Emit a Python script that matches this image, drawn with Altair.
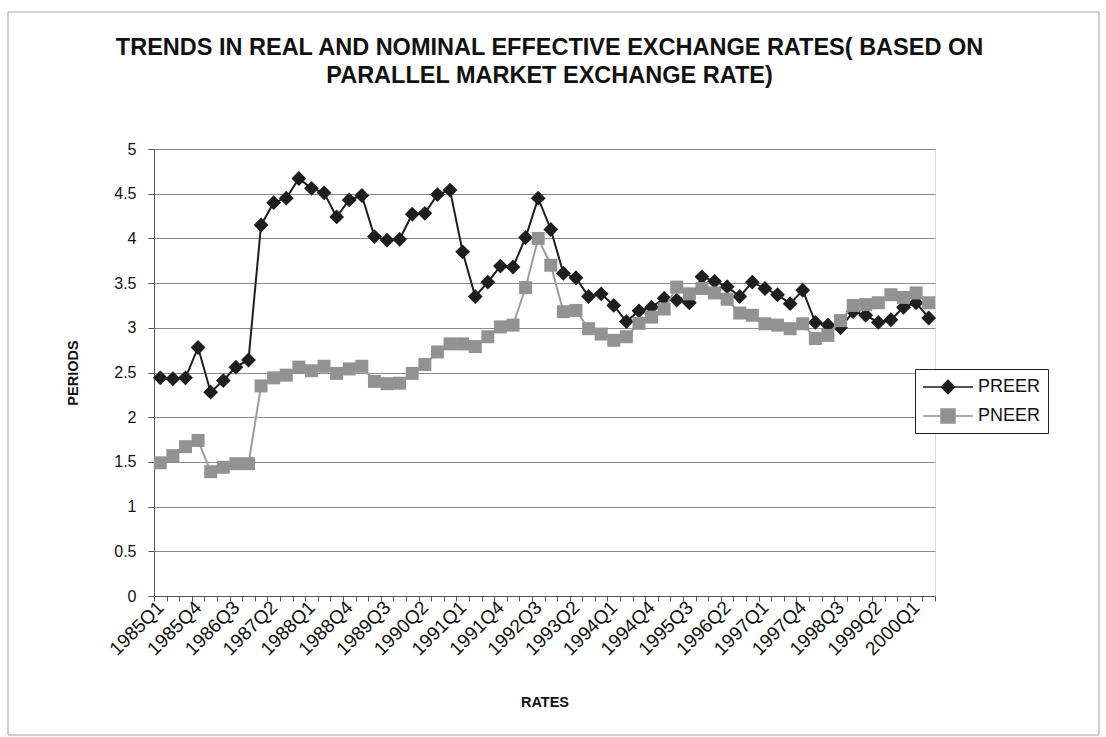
import json

import altair as alt
import pandas as pd

# Quarterly periods on the category axis
periods = [f"{yr}Q{q}" for yr in range(1985, 2001) for q in range(1, 5)][:62]
shown_labels = periods[::3]

# Parallel-market real effective exchange rate
preer = [
    2.44, 2.43, 2.44, 2.78, 2.28, 2.41, 2.56, 2.64, 4.15, 4.40,
    4.45, 4.67, 4.56, 4.51, 4.24, 4.43, 4.48, 4.02, 3.98, 3.99,
    4.27, 4.28, 4.49, 4.54, 3.85, 3.35, 3.51, 3.69, 3.68, 4.01,
    4.45, 4.10, 3.61, 3.56, 3.35, 3.38, 3.25, 3.07, 3.19, 3.23,
    3.33, 3.31, 3.28, 3.57, 3.52, 3.46, 3.35, 3.51, 3.44, 3.37,
    3.27, 3.42, 3.06, 3.03, 3.00, 3.18, 3.14, 3.06, 3.09, 3.23,
    3.28, 3.11,
]

# Parallel-market nominal effective exchange rate
pneer = [
    1.49, 1.57, 1.67, 1.74, 1.39, 1.44, 1.48, 1.48, 2.35, 2.44,
    2.47, 2.56, 2.52, 2.57, 2.49, 2.54, 2.57, 2.40, 2.375, 2.38,
    2.49, 2.59, 2.73, 2.82, 2.82, 2.79, 2.90, 3.01, 3.03, 3.45,
    4.00, 3.70, 3.18, 3.195, 2.99, 2.93, 2.86, 2.90, 3.05, 3.12,
    3.21, 3.455, 3.38, 3.44, 3.39, 3.32, 3.165, 3.14, 3.045, 3.03,
    2.99, 3.045, 2.88, 2.915, 3.08, 3.25, 3.26, 3.28, 3.37, 3.34,
    3.39, 3.28,
]

series_names = ["PREER", "PNEER"]
series_colors = ["#1e1e1e", "#929292"]
y_ticks = [0, 0.5, 1, 1.5, 2, 2.5, 3, 3.5, 4, 4.5, 5]

df = pd.DataFrame({
    "period": periods * 2,
    "series": ["PREER"] * len(preer) + ["PNEER"] * len(pneer),
    "value": preer + pneer,
})

FONT = "Liberation Sans"
label_expr = f"indexof({json.dumps(shown_labels)}, datum.value) >= 0 ? datum.value : ''"

x_enc = alt.X(
    "period:N",
    sort=periods,
    scale=alt.Scale(type="band", paddingInner=0, paddingOuter=0),
    axis=alt.Axis(
        title="RATES",
        labelExpr=label_expr,
        labelAngle=-45,
        labelAlign="right",
        labelBaseline="middle",
        labelOverlap=False,
        tickBand="extent",
        labelFont=FONT,
        labelFontSize=19,
        labelColor="#111111",
        labelPadding=3,
        tickSize=5,
        tickColor="#555555",
        domainColor="#555555",
        grid=False,
        titleFont=FONT,
        titleFontSize=14.5,
        titleFontWeight="bold",
        titleColor="#111111",
        titlePadding=37,
    ),
)

y_enc = alt.Y(
    "value:Q",
    scale=alt.Scale(domain=[0, 5], nice=False),
    axis=alt.Axis(
        title="PERIODS",
        values=y_ticks,
        format="~g",
        grid=True,
        gridColor="#8a8a8a",
        gridWidth=1,
        tickSize=6,
        tickColor="#555555",
        domainColor="#555555",
        labelFont=FONT,
        labelFontSize=16,
        labelColor="#111111",
        labelPadding=12,
        titleFont=FONT,
        titleFontSize=14.5,
        titleFontWeight="bold",
        titleColor="#111111",
        titlePadding=33,
    ),
)

base = alt.Chart(df)

preer_line = base.transform_filter("datum.series == 'PREER'").mark_line(
    color=series_colors[0], strokeWidth=2
).encode(x=x_enc, y=y_enc)
preer_pts = base.transform_filter("datum.series == 'PREER'").mark_point(
    shape="diamond", filled=True, size=220, color=series_colors[0], opacity=1
).encode(x=x_enc, y=y_enc)

pneer_line = base.transform_filter("datum.series == 'PNEER'").mark_line(
    color="#9c9c9c", strokeWidth=2
).encode(x=x_enc, y=y_enc)
pneer_pts = base.transform_filter("datum.series == 'PNEER'").mark_point(
    shape="square", filled=True, size=169, color=series_colors[1], opacity=1
).encode(x=x_enc, y=y_enc)

# Legend symbols: a short line with the series marker on it
legend_paths = [
    "M-1,0H4M1.5,-0.66L2.16,0L1.5,0.66L0.84,0Z",
    "M-1,0H4M0.8,-0.7H2.2V0.7H0.8Z",
]
legend_layer = base.transform_filter("false").mark_point(
    filled=True, opacity=1, strokeWidth=1.5
).encode(
    color=alt.Color(
        "series:N",
        scale=alt.Scale(domain=series_names, range=series_colors),
        legend=alt.Legend(
            title=None,
            orient="none",
            legendX=761,
            legendY=220,
            padding=7,
            fillColor="white",
            strokeColor="#222222",
            labelFont=FONT,
            labelFontSize=18,
            labelColor="#111111",
            labelOffset=34,
            symbolSize=400,
            symbolStrokeWidth=1.5,
            rowPadding=8,
        ),
    ),
    stroke=alt.Stroke(
        "series:N",
        scale=alt.Scale(domain=series_names, range=series_colors),
        legend=None,
    ),
    shape=alt.Shape(
        "series:N",
        scale=alt.Scale(domain=series_names, range=legend_paths),
        legend=alt.Legend(title=None, orient="none", legendX=761, legendY=220),
    ),
)

# Outer chart frame
frame = alt.Chart(alt.Data(values=[{"f": 1}])).mark_rect(
    filled=False, stroke="#a0a0a0", strokeWidth=1
).encode(
    x=alt.value(-146), x2=alt.value(945),
    y=alt.value(-137), y2=alt.value(586),
)

chart = alt.layer(
    frame, preer_line, preer_pts, pneer_line, pneer_pts, legend_layer
).properties(
    width=781,
    height=447,
    autosize=alt.AutoSizeParams(type="none"),
    padding={"left": 154, "top": 149, "right": 171, "bottom": 141},
    title=alt.TitleParams(
        text=[
            "TRENDS IN REAL AND NOMINAL EFFECTIVE EXCHANGE RATES( BASED ON",
            "PARALLEL MARKET EXCHANGE RATE)",
        ],
        anchor="middle",
        baseline="top",
        font=FONT,
        fontSize=23.5,
        fontWeight="bold",
        color="#111111",
        lineHeight=28,
        offset=-76,
        dx=5,
    ),
).configure_view(
    fill="#e4e4e4", stroke="#7a7a7a", strokeWidth=1
).configure(background="white")

chart.save("out.html", embed_options={"renderer": "svg", "actions": False})
